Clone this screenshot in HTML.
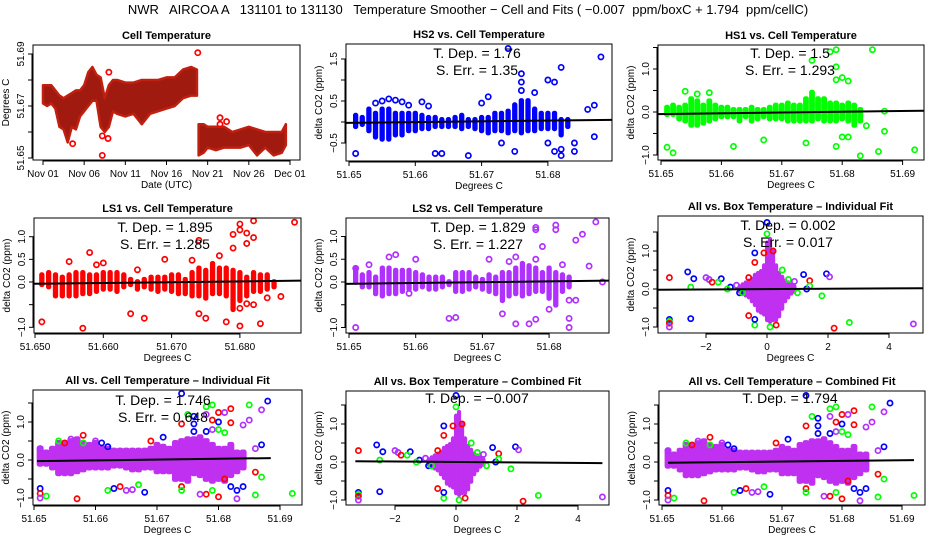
<!DOCTYPE html>
<html><head><meta charset="utf-8"><style>
body{margin:0;background:#fff;}
svg{display:block;font-family:"Liberation Sans",Arial,sans-serif;}
.tl{font-size:11px;font-weight:bold;text-anchor:middle;}
.tk{font-size:10px;text-anchor:middle;}
.an{font-size:14px;text-anchor:middle;}
</style></head><body>
<svg id="chart" width="936" height="540" viewBox="0 0 936 540" xmlns="http://www.w3.org/2000/svg">
<rect width="936" height="540" fill="#fff"/>
<text x="468" y="14" style="font-size:13px;text-anchor:middle;white-space:pre">NWR   AIRCOA A   131101 to 131130   Temperature Smoother − Cell and Fits ( −0.007  ppm/boxC + 1.794  ppm/cellC)</text>
</svg>
<script>
// ---------- data ----------
const dateTicks=[0,5,10,15,20,25,30];
const dateLabels=["Nov 01","Nov 06","Nov 11","Nov 16","Nov 21","Nov 26","Dec 01"];
const p1DaysA=[0,0.5,1,1.5,2,2.5,3,3.5,4,4.5,5,5.5,6,6.5,7,7.5,8,8.5,9,10,11,12,13,14,15,16,17,18,18.7];
const p1LoA=[51.671,51.670,51.671,51.669,51.662,51.661,51.656,51.662,51.661,51.666,51.668,51.670,51.672,51.672,51.662,51.660,51.662,51.668,51.667,51.666,51.667,51.663,51.667,51.668,51.669,51.670,51.673,51.674,51.674];
const p1HiA=[51.678,51.678,51.678,51.676,51.674,51.673,51.674,51.675,51.676,51.676,51.678,51.683,51.685,51.682,51.681,51.673,51.678,51.680,51.680,51.679,51.679,51.680,51.680,51.680,51.681,51.681,51.684,51.685,51.684];
const p1DaysB=[18.9,19.5,20,21,22,23,24,25,26,27,28,29,29.5];
const p1LoB=[51.651,51.652,51.654,51.653,51.654,51.654,51.654,51.655,51.651,51.654,51.651,51.652,51.655];
const p1HiB=[51.663,51.663,51.662,51.662,51.662,51.660,51.661,51.662,51.661,51.660,51.660,51.660,51.663];
const p1OutX=[7.2,7.2,7.9,8,18.8,21.5,21.5,22.3,3.6];
const p1OutY=[51.651,51.6585,51.6575,51.683,51.6905,51.6655,51.663,51.664,51.6555];

const binsCell=[51.651,51.652,51.653,51.654,51.655,51.656,51.657,51.658,51.659,51.660,51.661,51.662,51.663,51.664,51.665,51.666,51.667,51.668,51.669,51.670,51.671,51.672,51.673,51.674,51.675,51.676,51.677,51.678,51.679,51.680,51.681,51.682,51.683,51.684,51.685];

const hs2Lo=[-0.1,-0.05,-0.2,-0.35,-0.4,-0.4,-0.3,-0.3,-0.2,-0.2,-0.15,-0.15,-0.1,-0.1,-0.1,-0.1,-0.15,-0.1,-0.15,-0.2,-0.25,-0.2,-0.2,-0.25,-0.2,-0.25,-0.2,-0.2,-0.15,-0.15,-0.15,-0.3,-0.1];
const hs2Hi=[0.15,0.1,0.3,0.2,0.3,0.3,0.2,0.2,0.2,0.2,0.15,0.1,0.1,0.05,0.05,0.1,0.15,0.05,0.05,0.1,0.1,0.2,0.2,0.25,0.4,0.5,0.5,0.3,0.2,0.2,0.2,0.05,0.05];
const hs2OutX=[51.651,51.654,51.655,51.656,51.657,51.658,51.659,51.661,51.662,51.663,51.664,51.668,51.670,51.671,51.673,51.674,51.675,51.676,51.676,51.676,51.678,51.680,51.681,51.682,51.680,51.681,51.682,51.684,51.684,51.686,51.687,51.687,51.688,51.682];
const hs2OutY=[-0.75,0.45,0.5,0.55,0.52,0.48,0.4,0.48,0.38,-0.75,-0.75,-0.8,0.45,0.6,-0.5,1.75,-0.7,1.15,0.95,0.75,0.7,1.0,0.95,1.3,-0.5,-0.7,-0.8,-0.7,-0.5,0.3,0.4,-0.35,1.55,-0.65];
const hs2Fit=[-0.02,0.05];

const hs1Lo=[-0.05,-0.05,-0.15,-0.2,-0.3,-0.3,-0.25,-0.2,-0.15,-0.1,-0.1,-0.1,-0.2,-0.1,-0.2,-0.15,-0.1,-0.15,-0.15,-0.15,-0.2,-0.2,-0.2,-0.2,-0.2,-0.15,-0.2,-0.2,-0.2,-0.15,-0.2,-0.3,-0.2];
const hs1Hi=[0.1,0.15,0.1,0.15,0.3,0.25,0.15,0.25,0.15,0.1,0.1,0.05,0.05,0.05,0.1,0.05,0.05,0.1,0.15,0.15,0.2,0.15,0.15,0.3,0.45,0.3,0.3,0.2,0.2,0.15,0.2,0.15,0.05];
const hs1OutX=[51.651,51.652,51.654,51.656,51.658,51.662,51.667,51.674,51.675,51.678,51.679,51.679,51.679,51.679,51.680,51.681,51.683,51.684,51.685,51.686,51.687,51.687,51.692,51.680,51.681];
const hs1OutY=[-0.82,-0.95,0.48,0.42,0.45,-0.8,-0.65,-0.72,1.2,1.4,1.45,1.05,0.75,-0.8,0.8,0.72,-1.02,-0.32,1.45,-0.92,-0.45,0.02,-0.88,-0.58,-0.58];
const hs1Fit=[-0.05,0.03];

const ls1Lo=[-0.05,-0.1,-0.3,-0.3,-0.3,-0.3,-0.25,-0.25,-0.2,-0.15,-0.15,-0.2,-0.1,-0.05,-0.15,-0.1,-0.15,-0.2,-0.15,-0.2,-0.25,-0.25,-0.3,-0.3,-0.35,-0.25,-0.25,-0.3,-0.6,-0.4,-0.3,-0.2,-0.2,-0.15,-0.1];
const ls1Hi=[0.15,0.2,0.15,0.1,0.15,0.2,0.2,0.15,0.15,0.2,0.2,0.2,0.15,0.05,0.0,0.05,0.1,0.1,0.1,0.15,0.15,0.05,0.2,0.3,0.25,0.4,0.3,0.3,0.25,0.2,0.1,0.2,0.15,0.15,0.0];
const ls1OutX=[51.651,51.655,51.657,51.658,51.659,51.660,51.664,51.665,51.666,51.669,51.673,51.674,51.674,51.675,51.677,51.678,51.679,51.679,51.680,51.680,51.680,51.680,51.681,51.681,51.681,51.682,51.682,51.682,51.683,51.686,51.688,51.684];
const ls1OutY=[-0.88,0.45,-1.02,0.65,0.38,0.42,-0.7,0.27,-0.8,0.5,0.48,0.92,-0.7,-0.8,0.58,-0.88,1.05,0.75,1.28,1.15,-0.58,-0.97,1.08,0.85,-0.48,1.35,0.98,-0.5,-0.92,-0.32,1.32,-0.35];
const ls1Fit=[-0.04,0.03];

const ls2Lo=[0,-0.1,-0.1,-0.25,-0.3,-0.25,-0.25,-0.2,-0.15,-0.15,-0.1,-0.15,-0.15,-0.1,-0.05,-0.2,-0.2,-0.15,-0.1,-0.15,-0.2,-0.25,-0.4,-0.3,-0.25,-0.3,-0.25,-0.2,-0.2,-0.35,-0.5,-0.2,-0.1];
const ls2Hi=[0.3,0.15,0.2,0.1,0.3,0.3,0.25,0.25,0.25,0.2,0.15,0.1,0.1,0.1,0.0,0.2,0.2,0.2,0.1,0.05,0.15,0.1,0.2,0.2,0.3,0.4,0.35,0.3,0.2,0.3,0.2,0.15,0.1];
const ls2OutX=[51.651,51.651,51.653,51.656,51.657,51.660,51.659,51.665,51.666,51.671,51.673,51.674,51.675,51.675,51.677,51.678,51.678,51.678,51.679,51.678,51.680,51.681,51.681,51.682,51.683,51.683,51.684,51.684,51.685,51.686,51.687,51.688,51.683];
const ls2OutY=[-1.0,0.3,0.38,0.55,0.6,0.5,-0.25,-0.8,-0.78,0.5,-0.7,0.45,-0.92,0.55,-0.92,-0.82,1.2,1.15,0.78,0.5,-0.6,1.25,1.15,0.38,-0.8,-1.0,0.92,-0.4,1.05,0.35,1.32,0.0,-0.4];
const ls2Fit=[-0.04,0.03];

const binsBox=[-0.9,-0.8,-0.7,-0.6,-0.5,-0.4,-0.3,-0.2,-0.1,0.0,0.1,0.2,0.3,0.4,0.5,0.6,0.7,0.8,0.9];
const boxLo=[-0.05,-0.1,-0.15,-0.2,-0.3,-0.4,-0.55,-0.6,-0.65,-0.8,-0.85,-0.8,-0.8,-0.7,-0.5,-0.3,-0.2,-0.1,-0.05];
const boxHi=[0.05,0.1,0.15,0.2,0.25,0.35,0.4,0.45,0.6,1.2,1.3,1.0,0.6,0.4,0.3,0.2,0.15,0.1,0.05];
const boxOutX=[-3.2,-3.2,-3.2,-3.2,-3.2,-2.6,-2.5,-2.4,-2.5,-2.0,-1.9,-1.8,-1.5,-1.6,-1.2,-1.3,-1.0,-0.9,-0.8,-0.6,-0.6,-0.4,-0.4,-0.4,-0.4,0.0,0.0,-0.1,0.2,0.5,0.7,1.2,1.3,1.4,1.4,1.8,1.95,2.05,2.2,2.7,4.8,0.9,1.0,0.1,0.3];
const boxOutY=[0.3,-0.8,-0.85,-0.9,-1.0,0.45,-0.78,0.27,0.05,0.3,0.25,0.18,0.27,0.18,0.05,0.0,0.1,-0.1,-0.1,0.3,-0.7,0.95,0.7,-0.95,-0.8,1.75,1.45,0.95,1.0,0.5,0.25,0.38,0.0,0.22,0.08,-0.18,0.4,0.32,-1.03,-0.88,-0.92,0.2,-0.1,-1.0,-0.95];
const boxOutC=["r","b","g","r","p","b","b","b","g","p","p","r","b","g","b","g","p","b","g","r","r","b","r","g","b","b","g","r","r","g","g","b","b","r","g","g","b","p","r","g","p","p","g","g","r"];
const boxIndFit=[-0.02,0.02];
const boxCombFit=[0.02,-0.03];

const allLo=[-0.1,-0.1,-0.2,-0.35,-0.35,-0.35,-0.3,-0.25,-0.2,-0.2,-0.2,-0.2,-0.15,-0.15,-0.2,-0.25,-0.25,-0.2,-0.2,-0.3,-0.3,-0.3,-0.5,-0.5,-0.55,-0.35,-0.4,-0.5,-0.55,-0.5,-0.55,-0.4,-0.3,-0.2];
const allHi=[0.3,0.2,0.3,0.45,0.45,0.5,0.55,0.45,0.4,0.45,0.3,0.3,0.25,0.25,0.25,0.25,0.25,0.25,0.3,0.4,0.35,0.3,0.45,0.5,0.55,0.55,0.6,0.5,0.4,0.3,0.3,0.4,0.2,0.2];
const allOutX=[51.651,51.651,51.651,51.651,51.652,51.654,51.655,51.656,51.657,51.658,51.658,51.660,51.661,51.662,51.662,51.663,51.664,51.665,51.666,51.667,51.668,51.669,51.671,51.674,51.674,51.675,51.674,51.674,51.676,51.676,51.676,51.677,51.678,51.678,51.678,51.678,51.679,51.679,51.679,51.679,51.680,51.680,51.680,51.680,51.681,51.681,51.682,51.682,51.682,51.683,51.683,51.684,51.684,51.685,51.685,51.686,51.686,51.686,51.687,51.687,51.687,51.688,51.692,51.681];
const allOutY=[-0.75,-0.88,-1.0,0.3,-0.95,0.5,0.45,0.55,-1.02,0.65,0.45,0.5,0.45,0.35,-0.8,-0.75,-0.7,-0.8,-0.78,-0.65,-0.85,0.5,0.6,1.75,0.95,1.2,-0.7,-0.8,1.15,0.95,0.75,-0.9,1.4,1.2,0.75,-0.9,1.45,1.05,0.8,-0.8,1.25,1.0,0.8,-0.97,1.25,0.72,1.35,0.98,-0.7,-0.8,-1.02,-0.7,0.92,1.45,1.05,-0.92,0.3,-0.32,0.4,1.32,-0.45,1.55,-0.88,-0.5];
const allOutC=["b","r","p","p","g","g","r","p","r","r","g","p","b","b","g","b","r","p","p","g","b","r","b","b","r","g","r","g","b","b","b","p","g","p","b","r","g","r","p","g","r","b","g","r","p","g","r","r","b","b","p","b","p","g","p","g","p","r","b","p","g","b","g","r"];
const allIndFit=[-0.03,0.05];
const allCombFit=[-0.02,0.05];

// ---------- drawing ----------
const NS="http://www.w3.org/2000/svg";
const svg=document.getElementById("chart");
const COL={r:"#ff0000",b:"#0000ff",g:"#00ff00",p:"#b030ff"};
function mk(tag,attrs,parent){const e=document.createElementNS(NS,tag);for(const k in attrs)e.setAttribute(k,attrs[k]);(parent||svg).appendChild(e);return e;}
let pid=0;
function panel(c){
  pid++;
  const g=mk("g",{});
  
  
  const X=v=>c.x0+(v-c.xv0)*c.xs, Y=v=>c.y0-(v-c.yv0)*c.ys;
  const cp=mk("clipPath",{id:"cp"+pid},g);
  mk("rect",{x:c.l,y:c.t,width:c.r-c.l,height:c.b-c.t},cp);
  const inner=mk("g",{"clip-path":"url(#cp"+pid+")"},g);
  (c.bands||[]).forEach(bd=>{
    for(let i=0;i<bd.lo.length;i++){
      const x=X(bd.x[i]),y1=Y(bd.hi[i]),y2=Y(bd.lo[i]);
      const rc=mk("rect",{x:x-bd.w/2,y:y1-2.5,width:bd.w,height:y2-y1+5,rx:2,fill:bd.fill,stroke:bd.fill,"stroke-width":0.8},inner);
      
      
    }
  });
  (c.polys||[]).forEach(pl=>{
    let pts=[];
    for(let i=0;i<pl.x.length;i++)pts.push(X(pl.x[i])+","+Y(pl.hi[i]));
    for(let i=pl.x.length-1;i>=0;i--)pts.push(X(pl.x[i])+","+Y(pl.lo[i]));
    const pg=mk("polygon",{points:pts.join(" "),fill:pl.fill,stroke:pl.stroke,"stroke-width":2.5,"stroke-linejoin":"round"},inner);
    
    
  });
  (c.pts||[]).forEach(ps=>{
    for(let i=0;i<ps.x.length;i++){
      const col=ps.c?COL[ps.c[i]]:ps.col;
      const ci=mk("circle",{cx:X(ps.x[i]),cy:Y(ps.y[i]),r:2.6,fill:"none",stroke:col,"stroke-width":1.7},inner);
      
      
    }
  });
  if(c.fit){
    const ln=mk("line",{x1:X(c.fit.x[0]),y1:Y(c.fit.y[0]),x2:X(c.fit.x[1]),y2:Y(c.fit.y[1]),stroke:"#000","stroke-width":2},inner);
    
    
  }
  const bx=mk("rect",{x:c.l,y:c.t,width:c.r-c.l,height:c.b-c.t,fill:"none",stroke:"#000","stroke-width":1},g);
  
  
  const xa=mk("g",{},g);
  
  
  mk("line",{x1:X(c.xt[0]),x2:X(c.xt[c.xt.length-1]),y1:c.b+1,y2:c.b+1,stroke:"#000"},xa);
  c.xt.forEach((v,i)=>{
    const x=X(v);mk("line",{x1:x,x2:x,y1:c.b,y2:c.b+5,stroke:"#000"},xa);
    const t=mk("text",{x:x,y:c.b+17,class:"tk"},xa);t.textContent=c.xl[i];
  });
  const xt=mk("text",{x:(c.l+c.r)/2,y:c.b+28,class:"tk"},g);xt.textContent=c.xtitle;
  
  
  const ya=mk("g",{},g);
  
  
  mk("line",{x1:c.l-1,x2:c.l-1,y1:Y(c.yt[0]),y2:Y(c.yt[c.yt.length-1]),stroke:"#000"},ya);
  c.yt.forEach((v,i)=>{
    const y=Y(v);mk("line",{x1:c.l-5,x2:c.l,y1:y,y2:y,stroke:"#000"},ya);
    if(c.yl[i]){const t=mk("text",{x:c.l-9,y:y,class:"tk",transform:"rotate(-90 "+(c.l-9)+" "+y+")"},ya);t.textContent=c.yl[i];}
  });
  const yc=(c.t+c.b)/2;
  const yt=mk("text",{x:c.l-24,y:yc,class:"tk",transform:"rotate(-90 "+(c.l-24)+" "+yc+")"},g);yt.textContent=c.ytitle;
  
  
  const tl=mk("text",{x:(c.l+c.r)/2,y:c.t-6,class:"tl"},g);tl.textContent=c.title;
  
  
  (c.ann||[]).forEach((s,i)=>{
    const a=mk("text",{x:c.ax,y:c.ay+i*17,class:"an"},g);a.textContent=s;
    
    
  });
}
const cellT=[51.65,51.66,51.67,51.68,51.69];
const cellL=["51.65","51.66","51.67","51.68","51.69"];
const dYT=[-1,-0.5,0,0.5,1,1.5];
const dYL=["\u22121.0","","0.0","","1.0",""];
const YT="delta CO2 (ppm)";
const pPurple="#b030ff";

panel({name:"cell-temperature-panel",l:33,t:45,r:300,b:160,x0:43,xv0:0,xs:8.233,y0:158,yv0:51.65,ys:2600,
  polys:[{x:p1DaysA,lo:p1LoA,hi:p1HiA,fill:"#a01a10",stroke:"#c02010"},{x:p1DaysB,lo:p1LoB,hi:p1HiB,fill:"#a01a10",stroke:"#c02010"}],
  pts:[{x:p1OutX,y:p1OutY,col:"#ff0000"}],
  xt:dateTicks,xl:dateLabels,yt:[51.65,51.66,51.67,51.68,51.69],yl:["51.65","","51.67","","51.69"],
  xtitle:"Date (UTC)",ytitle:"Degrees C",title:"Cell Temperature"});

panel({name:"hs2-panel",l:346,t:44,r:612,b:161,x0:349,xv0:51.65,xs:6630,y0:122,yv0:0,ys:42,
  bands:[{x:binsCell,lo:hs2Lo,hi:hs2Hi,w:4.5,fill:"#0000ff"}],
  pts:[{x:hs2OutX,y:hs2OutY,col:"#0000ff"}],fit:{x:[51.6495,51.6897],y:hs2Fit},
  xt:[51.65,51.66,51.67,51.68],xl:["51.65","51.66","51.67","51.68"],yt:[-0.5,0,0.5,1,1.5],yl:["\u22120.5","","0.5","","1.5"],
  xtitle:"Degrees C",ytitle:YT,title:"HS2 vs. Cell Temperature",ann:["T. Dep. =  1.76","S. Err. =  1.35"],ax:477,ay:58});

panel({name:"hs1-panel",l:658,t:45,r:924,b:160,x0:661,xv0:51.65,xs:6040,y0:112,yv0:0,ys:43,
  bands:[{x:binsCell,lo:hs1Lo,hi:hs1Hi,w:5,fill:"#00ff00"}],
  pts:[{x:hs1OutX,y:hs1OutY,col:"#00ff00"}],fit:{x:[51.6495,51.6935],y:hs1Fit},
  xt:cellT,xl:cellL,yt:dYT,yl:dYL,
  xtitle:"Degrees C",ytitle:YT,title:"HS1 vs. Cell Temperature",ann:["T. Dep. =  1.5","S. Err. =  1.293"],ax:790,ay:58});

panel({name:"ls1-panel",l:34,t:218,r:301,b:333,x0:35,xv0:51.65,xs:6830,y0:282,yv0:0,ys:45.3,
  bands:[{x:binsCell,lo:ls1Lo,hi:ls1Hi,w:4.5,fill:"#ff0000"}],
  pts:[{x:ls1OutX,y:ls1OutY,col:"#ff0000"}],fit:{x:[51.6498,51.689],y:ls1Fit},
  xt:[51.65,51.66,51.67,51.68],xl:["51.650","51.660","51.670","51.680"],yt:[-1,-0.5,0,0.5,1],yl:["\u22121.0","","0.0","0.5","1.0"],
  xtitle:"Degrees C",ytitle:YT,title:"LS1 vs. Cell Temperature",ann:["T. Dep. =  1.895","S. Err. =  1.285"],ax:165,ay:232});

panel({name:"ls2-panel",l:346,t:218,r:609,b:333,x0:349,xv0:51.65,xs:6670,y0:282,yv0:0,ys:45.5,
  bands:[{x:binsCell,lo:ls2Lo,hi:ls2Hi,w:4.5,fill:pPurple}],
  pts:[{x:ls2OutX,y:ls2OutY,col:pPurple}],fit:{x:[51.6495,51.689],y:ls2Fit},
  xt:[51.65,51.66,51.67,51.68],xl:["51.65","51.66","51.67","51.68"],yt:[-1,-0.5,0,0.5,1],yl:["\u22121.0","","0.0","0.5","1.0"],
  xtitle:"Degrees C",ytitle:YT,title:"LS2 vs. Cell Temperature",ann:["T. Dep. =  1.829","S. Err. =  1.227"],ax:478,ay:232});

panel({name:"all-box-individual-panel",l:658,t:216,r:923,b:333,x0:767,xv0:0,xs:30.5,y0:289,yv0:0,ys:38,
  bands:[{x:binsBox,lo:boxLo,hi:boxHi,w:3.3,fill:"#c030f0"}],
  pts:[{x:boxOutX,y:boxOutY,c:boxOutC}],fit:{x:[-3.57,5.11],y:boxIndFit},
  xt:[-2,0,2,4],xl:["\u22122","0","2","4"],yt:dYT,yl:dYL,
  xtitle:"Degrees C",ytitle:YT,title:"All vs. Box Temperature \u2013 Individual Fit",ann:["T. Dep. =  0.002","S. Err. =  0.017"],ax:788,ay:230});

panel({name:"all-cell-individual-panel",l:33,t:390,r:302,b:505,x0:34,xv0:51.65,xs:6150,y0:460,yv0:0,ys:38,
  bands:[{x:binsCell,lo:allLo,hi:allHi,w:6.2,fill:"#c030f0"}],
  pts:[{x:allOutX,y:allOutY,c:allOutC}],fit:{x:[51.6505,51.6885],y:allIndFit},
  xt:cellT,xl:cellL,yt:dYT,yl:dYL,
  xtitle:"Degrees C",ytitle:YT,title:"All vs. Cell Temperature \u2013 Individual Fit",ann:["T. Dep. =  1.746","S. Err. =  0.648"],ax:163,ay:405});

panel({name:"all-box-combined-panel",l:346,t:391,r:609,b:505,x0:456,xv0:0,xs:30.5,y0:462,yv0:0,ys:38,
  bands:[{x:binsBox,lo:boxLo,hi:boxHi,w:3.3,fill:"#c030f0"}],
  pts:[{x:boxOutX,y:boxOutY,c:boxOutC}],fit:{x:[-3.3,4.8],y:boxCombFit},
  xt:[-2,0,2,4],xl:["\u22122","0","2","4"],yt:dYT,yl:dYL,
  xtitle:"Degrees C",ytitle:YT,title:"All vs. Box Temperature \u2013 Combined Fit",ann:["T. Dep. =  \u22120.007"],ax:477,ay:403});

panel({name:"all-cell-combined-panel",l:659,t:391,r:925,b:505,x0:662,xv0:51.65,xs:6000,y0:462,yv0:0,ys:38,
  bands:[{x:binsCell,lo:allLo,hi:allHi,w:6,fill:"#c030f0"}],
  pts:[{x:allOutX,y:allOutY,c:allOutC}],fit:{x:[51.651,51.692],y:allCombFit},
  xt:cellT,xl:cellL,yt:dYT,yl:dYL,
  xtitle:"Degrees C",ytitle:YT,title:"All vs. Cell Temperature \u2013 Combined Fit",ann:["T. Dep. =  1.794"],ax:790,ay:403});
</script>
</body></html>
